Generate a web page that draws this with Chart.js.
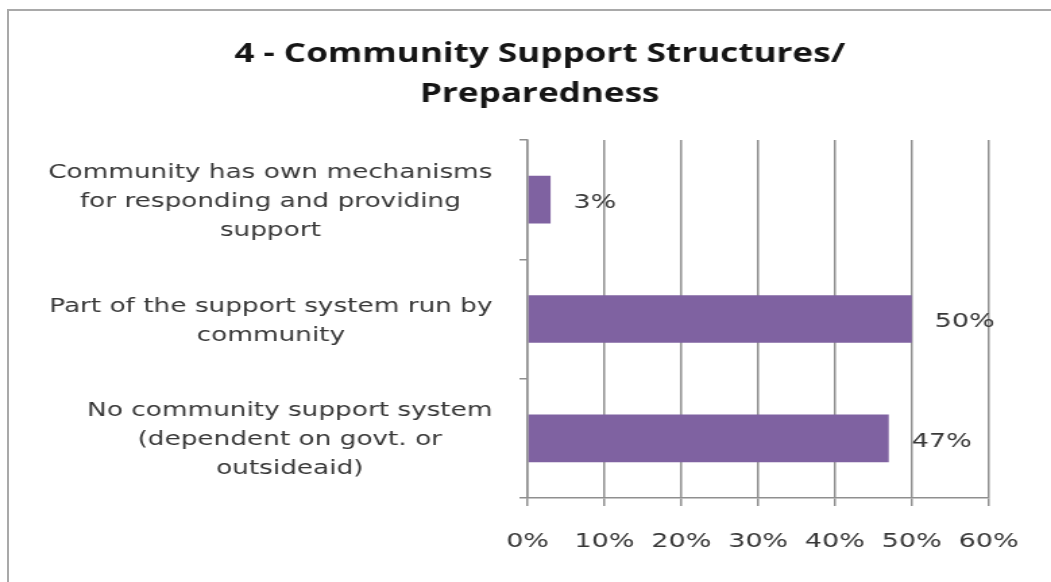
<!DOCTYPE html>
<html>
<head>
<meta charset="utf-8">
<title>Community Support Structures / Preparedness</title>
<script src="https://cdn.jsdelivr.net/npm/chart.js@4/dist/chart.umd.min.js"></script>
<style>
  html, body { margin: 0; padding: 0; background: #ffffff; }
  #wrap { position: relative; width: 1051px; height: 582px; overflow: hidden; }
  #frame { position: absolute; left: 7px; top: 9px; right: -4px; bottom: -4px;
           border-top: 2px solid #a9a9a9; border-left: 2px solid #a9a9a9; }
  /* the chart is laid out on a narrower canvas and widened to the page,
     which gives the broad lettering of the original office chart */
  #chart { position: absolute; left: 0; top: 0; width: 779px; height: 582px;
           transform: scaleX(1.3492); transform-origin: 0 0; }
</style>
</head>
<body>
<div id="wrap">
  <div id="frame"></div>
  <canvas id="chart" width="779" height="582"></canvas>
</div>
<script>
// Survey answers, one array entry per wrapped label line
const categories = [
  ["Community has own mechanisms", "for responding and providing", "support"],
  ["Part of the support system run by", "community"],
  ["No community support system", "(dependent on govt. or", "outsideaid)"]
];
const shares = [3, 50, 47];          // percent of respondents
const axisTicks = [0, 10, 20, 30, 40, 50, 60];
const titleLines = ["4 - Community Support Structures/", "Preparedness"];

const BAR = '#7f62a1';
const GRID = '#8f8f8f';
const TEXT = '#383838';
const SANS = '"DejaVu Sans", Verdana, sans-serif';

// Chart title, two centred lines
const chartTitle = {
  id: 'chartTitle',
  afterDraw(chart) {
    const ctx = chart.ctx;
    ctx.save();
    ctx.font = 'bold 26px "Open Sans", Lato, sans-serif';
    ctx.fillStyle = '#151515';
    ctx.textAlign = 'center';
    ctx.textBaseline = 'middle';
    titleLines.forEach((t, k) => ctx.fillText(t, 400, 55 + k * 40));
    ctx.restore();
  }
};

// Category labels: each block right-aligned on its widest line, lines centred within the block
const categoryLabels = {
  id: 'categoryLabels',
  afterDraw(chart) {
    const ctx = chart.ctx;
    const y = chart.scales.y;
    const right = y.right - 26;
    ctx.save();
    ctx.font = '19.5px ' + SANS;
    ctx.fillStyle = TEXT;
    ctx.textAlign = 'center';
    ctx.textBaseline = 'middle';
    categories.forEach((lines, i) => {
      const widest = Math.max(...lines.map(l => ctx.measureText(l).width));
      const cx = right - widest / 2;
      const cy = y.getPixelForValue(i) + 2;
      const top = cy - (lines.length - 1) * 29 / 2;
      lines.forEach((l, k) => ctx.fillText(l, cx, top + k * 29));
    });
    ctx.restore();
  }
};

// Value labels just past the end of each bar
const valueLabels = {
  id: 'valueLabels',
  afterDatasetsDraw(chart) {
    const ctx = chart.ctx;
    const meta = chart.getDatasetMeta(0);
    ctx.save();
    ctx.font = '20px ' + SANS;
    ctx.fillStyle = TEXT;
    ctx.textAlign = 'left';
    ctx.textBaseline = 'middle';
    meta.data.forEach((bar, i) => {
      ctx.fillText(shares[i] + '%', bar.x + 17, bar.y + 3);
    });
    ctx.restore();
  }
};

new Chart(document.getElementById('chart'), {
  type: 'bar',
  data: {
    labels: categories.map(c => c.join(' ')),
    datasets: [{
      data: shares,
      backgroundColor: BAR,
      borderWidth: 0,
      categoryPercentage: 1,
      barPercentage: 0.4
    }]
  },
  options: {
    indexAxis: 'y',
    responsive: false,
    animation: false,
    layout: { padding: { left: 8, right: 46, top: 140, bottom: 4 } },
    plugins: {
      legend: { display: false },
      tooltip: { enabled: false },
      title: { display: false }
    },
    scales: {
      x: {
        min: axisTicks[0],
        max: axisTicks[axisTicks.length - 1],
        afterBuildTicks(scale) { scale.ticks = axisTicks.map(v => ({ value: v })); },
        grid: { color: GRID, lineWidth: 1.5, tickLength: 8, drawTicks: true },
        border: { color: GRID, width: 1.5 },
        ticks: {
          color: TEXT,
          padding: 24,
          maxRotation: 0,
          font: { family: SANS, size: 20, lineHeight: 1.2 },
          callback: v => v + '%'
        }
      },
      y: {
        offset: true,
        afterFit(scale) { scale.width = 383; },
        grid: { drawOnChartArea: false, drawTicks: true, tickLength: 6, color: GRID, lineWidth: 1.5, offset: true },
        border: { color: GRID, width: 1.5 },
        ticks: { display: false }
      }
    }
  },
  plugins: [chartTitle, categoryLabels, valueLabels]
});
</script>
</body>
</html>
